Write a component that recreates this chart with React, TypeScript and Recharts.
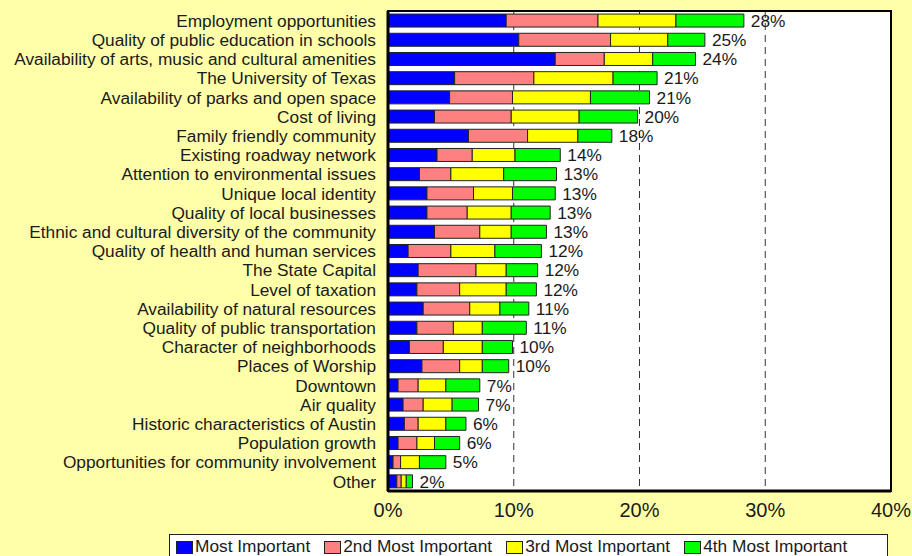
import React from 'react';
import { BarChart, Bar, XAxis, YAxis, CartesianGrid, Legend, LabelList, ReferenceArea } from 'recharts';

const categories: string[] = [
    'Employment opportunities',
    'Quality of public education in schools',
    'Availability of arts, music and cultural amenities',
    'The University of Texas',
    'Availability of parks and open space',
    'Cost of living',
    'Family friendly community',
    'Existing roadway network',
    'Attention to environmental issues',
    'Unique local identity',
    'Quality of local businesses',
    'Ethnic and cultural diversity of the community',
    'Quality of health and human services',
    'The State Capital',
    'Level of taxation',
    'Availability of natural resources',
    'Quality of public transportation',
    'Character of neighborhoods',
    'Places of Worship',
    'Downtown',
    'Air quality',
    'Historic characteristics of Austin',
    'Population growth',
    'Opportunities for community involvement',
    'Other',
];

const mostImportant: number[] = [9.4, 10.4, 13.3, 5.3, 4.9, 3.7, 6.4, 3.9, 2.5, 3.1, 3.1, 3.7, 1.6, 2.4, 2.3, 2.8, 2.3, 1.7, 2.7, 0.8, 1.2, 1.3, 0.8, 0.4, 0.7];
const secondMost: number[] = [7.3, 7.3, 3.9, 6.3, 5.0, 6.1, 4.7, 2.8, 2.5, 3.7, 3.2, 3.6, 3.4, 4.6, 3.4, 3.7, 2.9, 2.7, 3.0, 1.6, 1.6, 1.1, 1.5, 0.6, 0.35];
const thirdMost: number[] = [6.2, 4.55, 3.85, 6.3, 6.2, 5.4, 4.0, 3.4, 4.2, 3.1, 3.5, 2.5, 3.5, 2.4, 3.7, 2.4, 2.3, 3.1, 1.8, 2.2, 2.3, 2.2, 1.4, 1.5, 0.4];
const fourthMost: number[] = [5.4, 2.95, 3.4, 3.5, 4.7, 4.65, 2.7, 3.6, 4.2, 3.4, 3.1, 2.8, 3.7, 2.5, 2.4, 2.3, 3.5, 2.4, 2.1, 2.7, 2.1, 1.6, 2.0, 2.1, 0.5];
const totalLabels: string[] = ['28%', '25%', '24%', '21%', '21%', '20%', '18%', '14%', '13%', '13%', '13%', '13%', '12%', '12%', '12%', '11%', '11%', '10%', '10%', '7%', '7%', '6%', '6%', '5%', '2%'];

const xTicks: number[] = [0, 10, 20, 30, 40];

const series = [
    { key: 'first', name: 'Most Important', color: '#0000FF' },
    { key: 'second', name: '2nd Most Important', color: '#FF8080' },
    { key: 'third', name: '3rd Most Important', color: '#FFFF00' },
    { key: 'fourth', name: '4th Most Important', color: '#00FF00' },
];

const data = categories.map((name, i) => ({
    name,
    first: mostImportant[i],
    second: secondMost[i],
    third: thirdMost[i],
    fourth: fourthMost[i],
    total: totalLabels[i],
}));

const FONT = '"Liberation Sans", Arial, sans-serif';
const TEXT = '#1a1a1a';

const LegendBox = () => (
    <div
        style={{
            boxSizing: 'border-box',
            height: 30,
            border: '1px solid #222',
            background: '#fff',
            padding: '1px 0 0 6px',
            display: 'flex',
            fontFamily: FONT,
            fontSize: 17.3,
            lineHeight: '20px',
            color: TEXT,
            whiteSpace: 'nowrap',
        }}
    >
        {series.map((s) => (
            <span key={s.key} style={{ display: 'flex', alignItems: 'flex-start', marginRight: 14 }}>
                <span
                    style={{
                        display: 'inline-block',
                        boxSizing: 'border-box',
                        width: 17,
                        height: 13,
                        background: s.color,
                        border: '1px solid #222',
                        marginRight: 2,
                        marginTop: 5,
                    }}
                />
                {s.name}
            </span>
        ))}
    </div>
);

const App: React.FC = () => {
    return (
        <div style={{ position: 'fixed', left: 0, top: 0, width: 912, height: 556, overflow: 'hidden', background: '#FFFFAA' }}>
            <BarChart
                width={912}
                height={556}
                data={data}
                layout="vertical"
                margin={{ top: 11, right: 21, left: 0, bottom: 0 }}
                barCategoryGap="16%"
            >
                <CartesianGrid horizontal={false} fill="#fff" stroke="#333" strokeDasharray="7 5" />
                <XAxis
                    type="number"
                    domain={[0, 40]}
                    ticks={xTicks}
                    tickFormatter={(v: number) => `${v}%`}
                    height={35}
                    tickLine={false}
                    tickMargin={6}
                    axisLine={{ stroke: '#000', strokeWidth: 3 }}
                    tick={{ fill: TEXT, fontSize: 20, fontFamily: FONT }}
                />
                <YAxis
                    type="category"
                    dataKey="name"
                    width={388}
                    interval={0}
                    tickLine={false}
                    tickSize={0}
                    tickMargin={12}
                    axisLine={{ stroke: '#000', strokeWidth: 3 }}
                    tick={{ fill: TEXT, fontSize: 17.3, fontFamily: FONT }}
                />
                {series.map((s, idx) => (
                    <Bar
                        key={s.key}
                        dataKey={s.key}
                        name={s.name}
                        stackId="a"
                        fill={s.color}
                        stroke="#222"
                        strokeWidth={1}
                        isAnimationActive={false}
                    >
                        {idx === series.length - 1 && (
                            <LabelList
                                dataKey="total"
                                position="right"
                                offset={7}
                                style={{ fill: TEXT, fontSize: 17.3, fontFamily: FONT }}
                            />
                        )}
                    </Bar>
                ))}
                <ReferenceArea x1={0} x2={40} fill="none" stroke="#000" strokeWidth={2} ifOverflow="visible" />
                <Legend
                    verticalAlign="bottom"
                    content={() => <LegendBox />}
                    wrapperStyle={{ left: 169, bottom: -8, width: 719 }}
                />
            </BarChart>
        </div>
    );
};

export default App;
